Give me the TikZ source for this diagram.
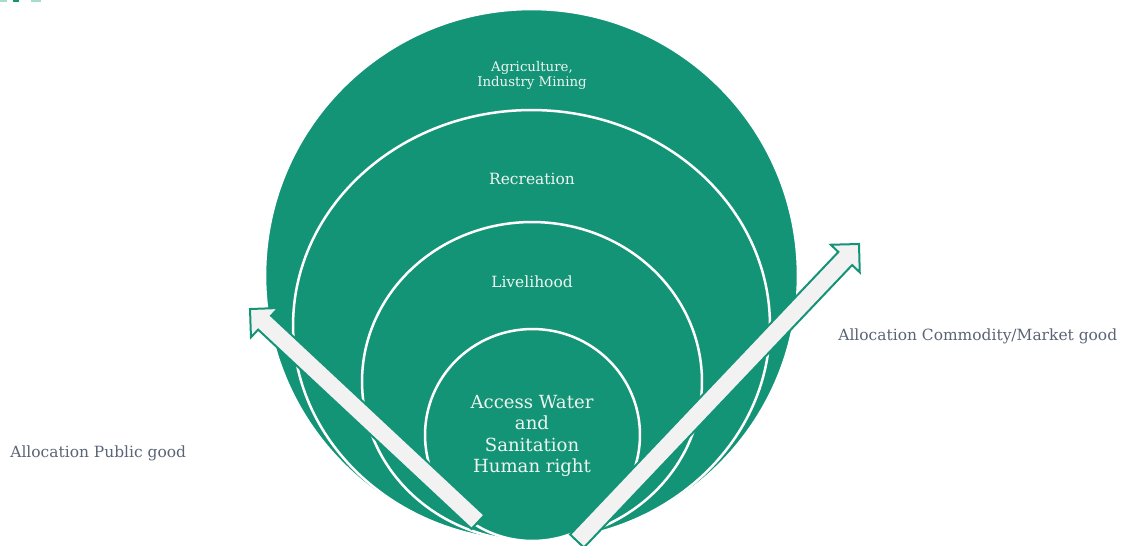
\documentclass[tikz,border=0pt]{standalone}
\usepackage{fontspec}
\setmainfont{DejaVu Serif}
\usetikzlibrary{calc,shapes.geometric}
\definecolor{Teal}{HTML}{149476}
\definecolor{PaleTeal}{HTML}{A6DCCA}
\definecolor{Mist}{HTML}{F2F2F2}
\definecolor{Slate}{HTML}{5A6477}
\definecolor{Foam}{HTML}{EEF5F1}

\begin{document}
\begin{tikzpicture}[x=0.02cm,y=-0.02cm,
  ring/.style={ellipse,draw=white,fill=Teal,line width=0.05cm,inner sep=0pt},
  ringtext/.style={text=Foam,align=center,inner sep=0pt},
  sidetext/.style={text=Slate,font=\fontsize{8.8}{10}\selectfont,anchor=west,inner sep=0pt},
  fatarrow/.style={fill=Mist,draw=Teal,line width=0.04cm}]
\useasboundingbox (0,0) rectangle (1121,545);

\fill[PaleTeal] (0,0) rectangle (7,2);
\fill[Teal] (13,0) rectangle (19,2);
\fill[PaleTeal] (31,0) rectangle (41,2);

% nested rings, all resting on the same bottom point
\node[ring,minimum width=10.66cm,minimum height=10.66cm] (use) at (531.5,275.5) {};
\node[ring,minimum width=9.54cm,minimum height=8.62cm] (fun) at (531.5,325.5) {};
\node[ring,minimum width=6.8cm,minimum height=6.38cm] (life) at (532,381.5) {};
\node[ring,minimum width=4.3cm,minimum height=4.24cm] (right) at (532.5,435) {};

\node[ringtext,font=\fontsize{7.6}{8.5}\selectfont] (agri) at (532,75) {Agriculture,\\Industry Mining};
\node[ringtext,font=\fontsize{8.8}{10}\selectfont] (recr) at (532,179) {Recreation};
\node[ringtext,font=\fontsize{8.8}{10}\selectfont] (live) at (532,282) {Livelihood};
\node[ringtext,font=\fontsize{10.3}{12.1}\selectfont] (core) at (532,436) {Access Water\\and\\Sanitation\\Human right};

\node[sidetext] (pub) at (10,453) {Allocation Public good};
\node[sidetext] (mkt) at (838,336) {Allocation Commodity/Market good};

% the two block arrows
\coordinate (pubTail) at (478,522);
\coordinate (pubTip) at (250,309);
\coordinate (mktTail) at (577,541);
\coordinate (mktTip) at (859,244);
\foreach \a in {pub,mkt}{
  \coordinate (\a Head) at ($(\a Tip)!0.4cm!(\a Tail)$);
  \filldraw[fatarrow] ($(\a Tail)!0.19cm!90:(\a Tip)$) -- ($(\a Head)!0.19cm!90:(\a Tip)$)
    -- ($(\a Head)!0.4cm!90:(\a Tip)$) -- (\a Tip) -- ($(\a Head)!0.4cm!-90:(\a Tip)$)
    -- ($(\a Head)!0.19cm!-90:(\a Tip)$) -- ($(\a Tail)!0.19cm!-90:(\a Tip)$) -- cycle;
}
\end{tikzpicture}
\end{document}
